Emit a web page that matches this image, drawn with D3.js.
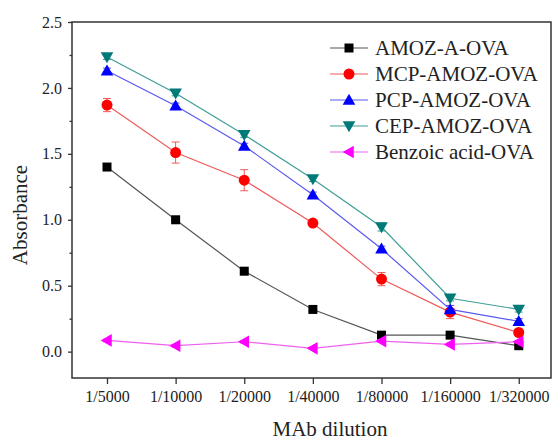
<!DOCTYPE html>
<html>
<head>
<meta charset="utf-8">
<script src="https://cdn.jsdelivr.net/npm/d3@7"></script>
<style>
body { margin: 0; background: #fff; }
svg text { font-family: "Liberation Serif", "Times New Roman", serif; fill: #222; }
</style>
</head>
<body>
<div class="chart"></div>
<script>
// tick labels on x
const dilutions = ["1/5000", "1/10000", "1/20000", "1/40000", "1/80000", "1/160000", "1/320000"];

const seriesNames = ["AMOZ-A-OVA", "MCP-AMOZ-OVA", "PCP-AMOZ-OVA", "CEP-AMOZ-OVA", "Benzoic acid-OVA"];

const amozA = [1.40, 1.00, 0.61, 0.32, 0.125, 0.125, 0.045];
const mcp   = [1.87, 1.51, 1.30, 0.975, 0.55, 0.30, 0.145];
const pcp   = [2.13, 1.865, 1.56, 1.19, 0.78, 0.32, 0.23];
const cep   = [2.235, 1.96, 1.645, 1.31, 0.945, 0.405, 0.32];
const benz  = [0.085, 0.045, 0.075, 0.025, 0.08, 0.055, 0.075];

// error bars (half-width)
const amozAErr = [0.01, 0.01, 0.01, 0.01, 0.01, 0.01, 0.01];
const mcpErr   = [0.05, 0.08, 0.08, 0.02, 0.05, 0.05, 0.02];
const pcpErr   = [0.02, 0.02, 0.02, 0.02, 0.02, 0.03, 0.02];
const cepErr   = [0.02, 0.02, 0.02, 0.02, 0.03, 0.02, 0.02];
const benzErr  = [0.01, 0.01, 0.01, 0.01, 0.01, 0.01, 0.01];

const yTicks = [0.0, 0.5, 1.0, 1.5, 2.0, 2.5];
const yMinor = [0.25, 0.75, 1.25, 1.75, 2.25];

const series = [
    {name: seriesNames[0], values: amozA, err: amozAErr, color: "#000000", line: "#555555", shape: "square"},
    {name: seriesNames[1], values: mcp, err: mcpErr, color: "#ff0000", line: "#ef5a5a", shape: "circle"},
    {name: seriesNames[2], values: pcp, err: pcpErr, color: "#0000ff", line: "#5a5aee", shape: "up"},
    {name: seriesNames[3], values: cep, err: cepErr, color: "#007a78", line: "#3f9e96", shape: "down"},
    {name: seriesNames[4], values: benz, err: benzErr, color: "#ff00ff", line: "#f060f0", shape: "left"}
];

const W = 552, H = 442;
const plot = {left: 72, right: 551, top: 22, bottom: 378};

const svg = d3.select(".chart")
    .append("svg")
    .attr("width", W)
    .attr("height", H);

const x = d3.scaleLinear()
    .domain([-0.51, 6.47])
    .range([plot.left, plot.right]);

const y = d3.scaleLinear()
    .domain([-0.2, 2.5])
    .range([plot.bottom, plot.top]);

// frame
svg.append("rect")
    .attr("x", plot.left)
    .attr("y", plot.top)
    .attr("width", plot.right - plot.left)
    .attr("height", plot.bottom - plot.top)
    .attr("fill", "none")
    .attr("stroke", "#333")
    .attr("stroke-width", 1.5);

// y axis
svg.append("g")
    .attr("transform", `translate(${plot.left},0)`)
    .call(d3.axisLeft(y)
        .tickValues(yTicks)
        .tickFormat(d3.format(".1f"))
        .tickSize(4)
        .tickPadding(6));

// minor ticks
svg.append("g")
    .attr("transform", `translate(${plot.left},0)`)
    .call(d3.axisLeft(y)
        .tickValues(yMinor)
        .tickFormat("")
        .tickSize(2.5));

// x axis
svg.append("g")
    .attr("transform", `translate(0,${plot.bottom})`)
    .call(d3.axisBottom(x)
        .tickValues(d3.range(dilutions.length))
        .tickFormat(i => dilutions[i])
        .tickSize(6)
        .tickPadding(7));

svg.selectAll(".domain").remove();
svg.selectAll(".tick line").attr("stroke", "#333").attr("stroke-width", 1.3);
svg.selectAll(".tick text")
    .style("font-family", "'Liberation Serif', serif")
    .style("font-size", "16px")
    .attr("fill", "#222");

// axis titles
svg.append("text")
    .attr("transform", "translate(27,215) rotate(-90)")
    .attr("text-anchor", "middle")
    .style("font-size", "21px")
    .text("Absorbance");

svg.append("text")
    .attr("x", 330)
    .attr("y", 436)
    .attr("text-anchor", "middle")
    .style("font-size", "21px")
    .text("MAb dilution");

// markers
function drawMarker(g, shape, color, cx, cy){
    if(shape === "square"){
        g.append("rect")
            .attr("x", cx - 4.5).attr("y", cy - 4.5)
            .attr("width", 9).attr("height", 9)
            .attr("fill", color);
    } else if(shape === "circle"){
        g.append("circle")
            .attr("cx", cx).attr("cy", cy).attr("r", 5.5)
            .attr("fill", color);
    } else {
        const s = 6.3;
        let pts;
        if(shape === "up") pts = [[cx, cy - s], [cx + s, cy + s * 0.75], [cx - s, cy + s * 0.75]];
        if(shape === "down") pts = [[cx, cy + s], [cx + s, cy - s * 0.75], [cx - s, cy - s * 0.75]];
        if(shape === "left") pts = [[cx - s, cy], [cx + s * 0.75, cy - s], [cx + s * 0.75, cy + s]];
        g.append("polygon")
            .attr("points", pts.map(p => p.join(",")).join(" "))
            .attr("fill", color);
    }
}

const line = d3.line()
    .x((d, i) => x(i))
    .y(d => y(d));

series.forEach(s => {

    const g = svg.append("g");

    g.append("path")
        .datum(s.values)
        .attr("d", line)
        .attr("fill", "none")
        .attr("stroke", s.line)
        .attr("stroke-width", 1.2);

    // error bars
    s.values.forEach((v, i) => {
        const e = s.err[i];
        const cx = x(i);
        g.append("line")
            .attr("x1", cx).attr("x2", cx)
            .attr("y1", y(v - e)).attr("y2", y(v + e))
            .attr("stroke", s.line).attr("stroke-width", 1);
        [v - e, v + e].forEach(t => {
            g.append("line")
                .attr("x1", cx - 4).attr("x2", cx + 4)
                .attr("y1", y(t)).attr("y2", y(t))
                .attr("stroke", s.line).attr("stroke-width", 1);
        });
    });

    s.values.forEach((v, i) => drawMarker(g, s.shape, s.color, x(i), y(v)));
});

// legend
const legend = svg.append("g");

series.forEach((s, i) => {
    const ly = 48 + i * 26;
    legend.append("line")
        .attr("x1", 330).attr("x2", 368)
        .attr("y1", ly).attr("y2", ly)
        .attr("stroke", s.line).attr("stroke-width", 1.2);
    drawMarker(legend, s.shape, s.color, 349, ly);
    legend.append("text")
        .attr("x", 375)
        .attr("y", ly)
        .attr("dy", "0.35em")
        .style("font-size", "21px")
        .text(s.name);
});
</script>
</body>
</html>
